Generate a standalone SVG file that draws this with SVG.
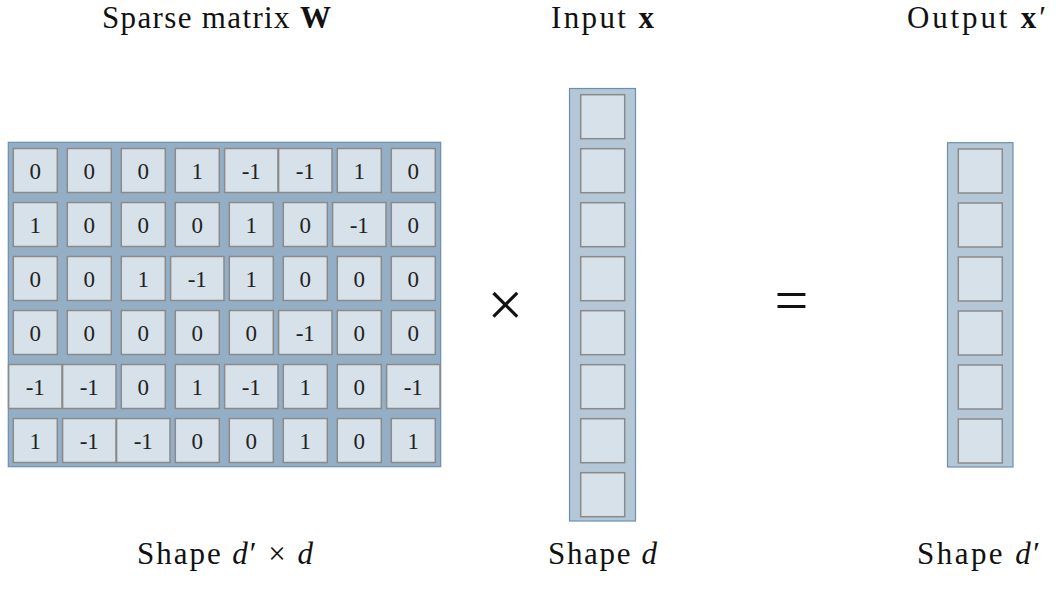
<svg xmlns="http://www.w3.org/2000/svg" width="1056" height="601" viewBox="0 0 1056 601">
<style>
.bgm{fill:#94afc5;stroke:#6d8fae;stroke-width:1.2}
.bgv{fill:#b4c7d7;stroke:#6d8fae;stroke-width:1.2}
.c{fill:#d7e1ea;stroke:#8a8a8a;stroke-width:1.5}
.n{font-family:"Liberation Serif","Times New Roman",serif;font-size:23px;fill:#222;text-anchor:middle}
.t{font-family:"Liberation Serif","Times New Roman",serif;font-size:31px;fill:#111}
.op{font-family:"Liberation Serif","Times New Roman",serif;fill:#111;text-anchor:middle}
</style>
<rect width="1056" height="601" fill="#fff"/>
<g id="matrix-W">
<rect class="bgm" x="8.3" y="142.3" width="432.4" height="324.4"/>
<!-- row 1 -->
<rect class="c" x="13.3" y="148.5" width="44" height="44"/><text class="n" x="35.3" y="178.5">0</text>
<rect class="c" x="67.3" y="148.5" width="44" height="44"/><text class="n" x="89.3" y="178.5">0</text>
<rect class="c" x="121.3" y="148.5" width="44" height="44"/><text class="n" x="143.3" y="178.5">0</text>
<rect class="c" x="175.3" y="148.5" width="44" height="44"/><text class="n" x="197.3" y="178.5">1</text>
<rect class="c" x="224.6" y="148.5" width="53.4" height="44"/><text class="n" x="251.3" y="178.5">-1</text>
<rect class="c" x="278.6" y="148.5" width="53.4" height="44"/><text class="n" x="305.3" y="178.5">-1</text>
<rect class="c" x="337.3" y="148.5" width="44" height="44"/><text class="n" x="359.3" y="178.5">1</text>
<rect class="c" x="391.3" y="148.5" width="44" height="44"/><text class="n" x="413.3" y="178.5">0</text>
<!-- row 2 -->
<rect class="c" x="13.3" y="202.5" width="44" height="44"/><text class="n" x="35.3" y="232.5">1</text>
<rect class="c" x="67.3" y="202.5" width="44" height="44"/><text class="n" x="89.3" y="232.5">0</text>
<rect class="c" x="121.3" y="202.5" width="44" height="44"/><text class="n" x="143.3" y="232.5">0</text>
<rect class="c" x="175.3" y="202.5" width="44" height="44"/><text class="n" x="197.3" y="232.5">0</text>
<rect class="c" x="229.3" y="202.5" width="44" height="44"/><text class="n" x="251.3" y="232.5">1</text>
<rect class="c" x="283.3" y="202.5" width="44" height="44"/><text class="n" x="305.3" y="232.5">0</text>
<rect class="c" x="332.6" y="202.5" width="53.4" height="44"/><text class="n" x="359.3" y="232.5">-1</text>
<rect class="c" x="391.3" y="202.5" width="44" height="44"/><text class="n" x="413.3" y="232.5">0</text>
<!-- row 3 -->
<rect class="c" x="13.3" y="256.5" width="44" height="44"/><text class="n" x="35.3" y="286.5">0</text>
<rect class="c" x="67.3" y="256.5" width="44" height="44"/><text class="n" x="89.3" y="286.5">0</text>
<rect class="c" x="121.3" y="256.5" width="44" height="44"/><text class="n" x="143.3" y="286.5">1</text>
<rect class="c" x="170.6" y="256.5" width="53.4" height="44"/><text class="n" x="197.3" y="286.5">-1</text>
<rect class="c" x="229.3" y="256.5" width="44" height="44"/><text class="n" x="251.3" y="286.5">1</text>
<rect class="c" x="283.3" y="256.5" width="44" height="44"/><text class="n" x="305.3" y="286.5">0</text>
<rect class="c" x="337.3" y="256.5" width="44" height="44"/><text class="n" x="359.3" y="286.5">0</text>
<rect class="c" x="391.3" y="256.5" width="44" height="44"/><text class="n" x="413.3" y="286.5">0</text>
<!-- row 4 -->
<rect class="c" x="13.3" y="310.5" width="44" height="44"/><text class="n" x="35.3" y="340.5">0</text>
<rect class="c" x="67.3" y="310.5" width="44" height="44"/><text class="n" x="89.3" y="340.5">0</text>
<rect class="c" x="121.3" y="310.5" width="44" height="44"/><text class="n" x="143.3" y="340.5">0</text>
<rect class="c" x="175.3" y="310.5" width="44" height="44"/><text class="n" x="197.3" y="340.5">0</text>
<rect class="c" x="229.3" y="310.5" width="44" height="44"/><text class="n" x="251.3" y="340.5">0</text>
<rect class="c" x="278.6" y="310.5" width="53.4" height="44"/><text class="n" x="305.3" y="340.5">-1</text>
<rect class="c" x="337.3" y="310.5" width="44" height="44"/><text class="n" x="359.3" y="340.5">0</text>
<rect class="c" x="391.3" y="310.5" width="44" height="44"/><text class="n" x="413.3" y="340.5">0</text>
<!-- row 5 -->
<rect class="c" x="8.6" y="364.5" width="53.4" height="44"/><text class="n" x="35.3" y="394.5">-1</text>
<rect class="c" x="62.6" y="364.5" width="53.4" height="44"/><text class="n" x="89.3" y="394.5">-1</text>
<rect class="c" x="121.3" y="364.5" width="44" height="44"/><text class="n" x="143.3" y="394.5">0</text>
<rect class="c" x="175.3" y="364.5" width="44" height="44"/><text class="n" x="197.3" y="394.5">1</text>
<rect class="c" x="224.6" y="364.5" width="53.4" height="44"/><text class="n" x="251.3" y="394.5">-1</text>
<rect class="c" x="283.3" y="364.5" width="44" height="44"/><text class="n" x="305.3" y="394.5">1</text>
<rect class="c" x="337.3" y="364.5" width="44" height="44"/><text class="n" x="359.3" y="394.5">0</text>
<rect class="c" x="386.6" y="364.5" width="53.4" height="44"/><text class="n" x="413.3" y="394.5">-1</text>
<!-- row 6 -->
<rect class="c" x="13.3" y="418.5" width="44" height="44"/><text class="n" x="35.3" y="448.5">1</text>
<rect class="c" x="62.6" y="418.5" width="53.4" height="44"/><text class="n" x="89.3" y="448.5">-1</text>
<rect class="c" x="116.6" y="418.5" width="53.4" height="44"/><text class="n" x="143.3" y="448.5">-1</text>
<rect class="c" x="175.3" y="418.5" width="44" height="44"/><text class="n" x="197.3" y="448.5">0</text>
<rect class="c" x="229.3" y="418.5" width="44" height="44"/><text class="n" x="251.3" y="448.5">0</text>
<rect class="c" x="283.3" y="418.5" width="44" height="44"/><text class="n" x="305.3" y="448.5">1</text>
<rect class="c" x="337.3" y="418.5" width="44" height="44"/><text class="n" x="359.3" y="448.5">0</text>
<rect class="c" x="391.3" y="418.5" width="44" height="44"/><text class="n" x="413.3" y="448.5">1</text>
</g>
<g id="input-x">
<rect class="bgv" x="569.5" y="88.5" width="66" height="432.5"/>
<rect class="c" x="580.7" y="94.7" width="44" height="44"/>
<rect class="c" x="580.7" y="148.7" width="44" height="44"/>
<rect class="c" x="580.7" y="202.7" width="44" height="44"/>
<rect class="c" x="580.7" y="256.7" width="44" height="44"/>
<rect class="c" x="580.7" y="310.7" width="44" height="44"/>
<rect class="c" x="580.7" y="364.7" width="44" height="44"/>
<rect class="c" x="580.7" y="418.7" width="44" height="44"/>
<rect class="c" x="580.7" y="472.7" width="44" height="44"/>
</g>
<g id="output-x-prime">
<rect class="bgv" x="947.5" y="142.7" width="65.5" height="324.3"/>
<rect class="c" x="958.3" y="149" width="44" height="44"/>
<rect class="c" x="958.3" y="203" width="44" height="44"/>
<rect class="c" x="958.3" y="257" width="44" height="44"/>
<rect class="c" x="958.3" y="311" width="44" height="44"/>
<rect class="c" x="958.3" y="365" width="44" height="44"/>
<rect class="c" x="958.3" y="419" width="44" height="44"/>
</g>
<g id="operators">
<text class="op" x="505.3" y="325.5" font-size="64">×</text>
<text class="op" x="791.3" y="320" font-size="60">=</text>
</g>
<g id="titles">
<text class="t" x="102" y="28" textLength="229" lengthAdjust="spacing">Sparse matrix <tspan font-weight="bold">W</tspan></text>
<text class="t" x="551" y="28" textLength="103" lengthAdjust="spacing">Input <tspan font-weight="bold">x</tspan></text>
<text class="t" x="907" y="28" textLength="139" lengthAdjust="spacing">Output <tspan font-weight="bold">x</tspan>′</text>
</g>
<g id="shape-labels">
<text class="t" x="137" y="564" textLength="176" lengthAdjust="spacing">Shape <tspan font-style="italic">d</tspan>′ × <tspan font-style="italic">d</tspan></text>
<text class="t" x="548" y="564" textLength="109" lengthAdjust="spacing">Shape <tspan font-style="italic">d</tspan></text>
<text class="t" x="917" y="564" textLength="123" lengthAdjust="spacing">Shape <tspan font-style="italic">d</tspan>′</text>
</g>
</svg>
